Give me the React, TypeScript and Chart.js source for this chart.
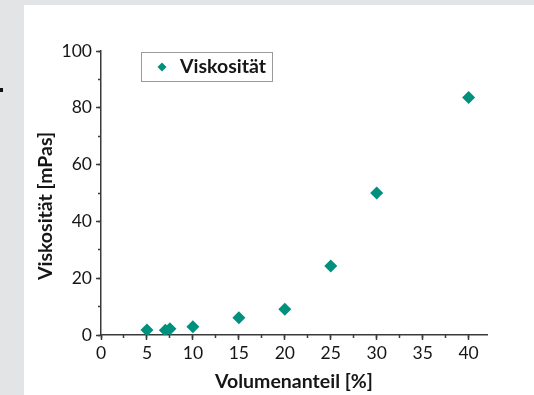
import React, { useEffect, useRef } from 'react';
import { Chart, registerables } from 'chart.js';

Chart.register(...registerables);

// ---- data ----
const volumeFraction = [5, 7, 7.5, 10, 15, 20, 25, 30, 40];
const viscosity = [1.8, 1.7, 2.2, 2.9, 6.1, 9.1, 24.3, 50, 83.6];
const seriesLabel = 'Viskosität';
const xTitle = 'Volumenanteil [%]';
const yTitle = 'Viskosität [mPas]';
const xMin = 0;
const xMax = 42;
const xMajorStep = 5;
const xMinorStep = 2.5;
const yMin = 0;
const yMax = 100;
const yMajorStep = 20;
const yMinorStep = 10;

const FONT = 'Lato, "Open Sans", "DejaVu Sans", sans-serif';
const MARKER = '#00917e';
const AXIS = '#3a3a3a';
const TEXT = '#161616';
const TITLE_SIZE = 19.5;

const decorPlugin = {
  id: 'decor',
  beforeDraw(chart: any) {
    const { ctx, width, height } = chart;
    ctx.save();
    ctx.fillStyle = '#e3e4e6';
    ctx.fillRect(0, 0, width, height);
    ctx.fillStyle = '#ffffff';
    ctx.fillRect(24, 5, width - 24, height - 5);
    ctx.fillStyle = '#111111';
    ctx.fillRect(0, 88, 3, 4);
    ctx.restore();
  },
  afterDraw(chart: any) {
    const { ctx } = chart;
    ctx.save();
    // y axis title
    ctx.translate(46, 206);
    ctx.rotate(-Math.PI / 2);
    ctx.font = `bold ${TITLE_SIZE}px ${FONT}`;
    ctx.fillStyle = TEXT;
    ctx.textAlign = 'center';
    ctx.textBaseline = 'middle';
    ctx.fillText(yTitle, 0, 0);
    ctx.restore();

    // legend box
    ctx.save();
    ctx.strokeStyle = '#9a9a9a';
    ctx.lineWidth = 1;
    ctx.strokeRect(141.5, 52.5, 131, 29);
    ctx.fillStyle = MARKER;
    const cx = 162, cy = 67, r = 4.5;
    ctx.beginPath();
    ctx.moveTo(cx - r, cy);
    ctx.lineTo(cx, cy - r);
    ctx.lineTo(cx + r, cy);
    ctx.lineTo(cx, cy + r);
    ctx.closePath();
    ctx.fill();
    ctx.font = `bold ${TITLE_SIZE}px ${FONT}`;
    ctx.fillStyle = TEXT;
    ctx.textAlign = 'left';
    ctx.textBaseline = 'middle';
    ctx.fillText(seriesLabel, 180, 67);
    ctx.restore();
  },
};

export default function App() {
  const ref = useRef<HTMLCanvasElement>(null);
  useEffect(() => {
    document.body.style.margin = '0';
    const chart = new Chart(ref.current as HTMLCanvasElement, {
      type: 'scatter',
      data: {
        datasets: [
          {
            label: seriesLabel,
            data: volumeFraction.map((x, i) => ({ x, y: viscosity[i] })),
            pointStyle: 'rectRot',
            pointRadius: 6.5,
            pointHoverRadius: 6.5,
            backgroundColor: MARKER,
            borderColor: MARKER,
            borderWidth: 0,
          },
        ],
      },
      options: {
        responsive: false,
        animation: false,
        events: [],
        layout: { padding: { left: 24, top: 51, right: 47, bottom: 0 } },
        plugins: { legend: { display: false }, tooltip: { enabled: false } },
        scales: {
          x: {
            type: 'linear',
            position: 'bottom',
            min: xMin,
            max: xMax,
            weight: 1,
            afterFit: (s: any) => { s.height = 60; },
            border: { display: true, color: AXIS, width: 1.5 },
            grid: { drawOnChartArea: false, drawTicks: true, tickLength: 5, color: AXIS, tickWidth: 1.5 },
            ticks: {
              stepSize: xMajorStep,
              includeBounds: false,
              autoSkip: false,
              maxRotation: 0,
              padding: 3,
              color: TEXT,
              font: { family: FONT, size: 17.5 },
            },
            title: {
              display: true,
              text: xTitle,
              color: TEXT,
              font: { family: FONT, size: TITLE_SIZE, weight: 'bold' },
              padding: { top: 0, bottom: 2 },
            },
          },
          xMinor: {
            type: 'linear',
            position: 'bottom',
            min: xMin,
            max: xMax,
            weight: -1,
            afterFit: (s: any) => { s.height = 0; },
            border: { display: false },
            grid: { drawOnChartArea: false, drawTicks: true, tickLength: 3, color: AXIS, tickWidth: 1.5 },
            ticks: { stepSize: xMinorStep, includeBounds: false, autoSkip: false, display: false },
          },
          y: {
            type: 'linear',
            position: 'left',
            min: yMin,
            max: yMax,
            weight: 1,
            afterFit: (s: any) => { s.width = 77; },
            border: { display: true, color: AXIS, width: 1.5 },
            grid: { drawOnChartArea: false, drawTicks: true, tickLength: 5, color: AXIS, tickWidth: 1.5 },
            ticks: {
              stepSize: yMajorStep,
              includeBounds: false,
              autoSkip: false,
              padding: 4,
              color: TEXT,
              font: { family: FONT, size: 17.5 },
            },
          },
          yMinor: {
            type: 'linear',
            position: 'left',
            min: yMin,
            max: yMax,
            weight: -1,
            afterFit: (s: any) => { s.width = 0; },
            border: { display: false },
            grid: { drawOnChartArea: false, drawTicks: true, tickLength: 3, color: AXIS, tickWidth: 1.5 },
            ticks: { stepSize: yMinorStep, includeBounds: false, autoSkip: false, display: false },
          },
        },
      },
      plugins: [decorPlugin],
    } as any);
    return () => chart.destroy();
  }, []);
  return (
    <div style={{ position: 'fixed', left: 0, top: 0, width: 534, height: 395 }}>
      <canvas ref={ref} width={534} height={395} style={{ display: 'block', width: 534, height: 395 }} />
    </div>
  );
}
